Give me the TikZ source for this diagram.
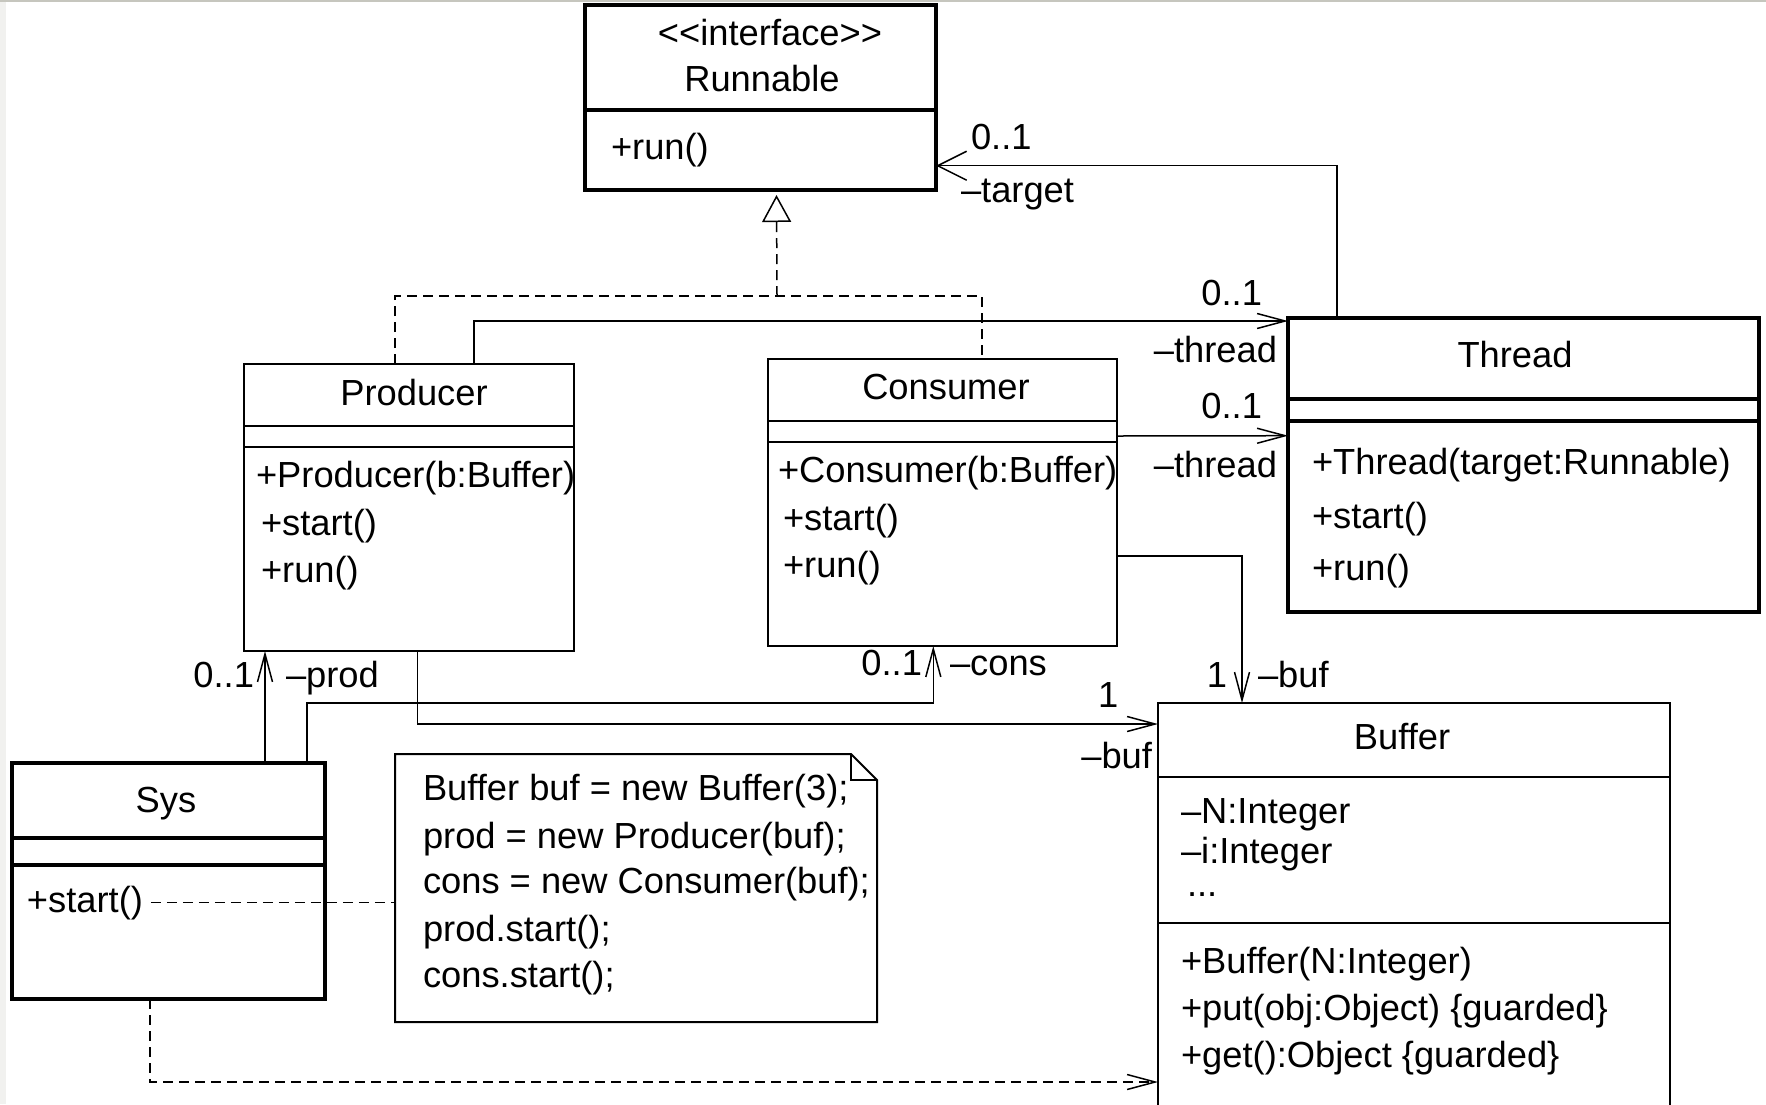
\documentclass[tikz,border=0pt]{standalone}
\usepackage{fontspec}
\setmainfont{Liberation Sans}
\usetikzlibrary{arrows.meta}
\begin{document}
\begin{tikzpicture}[x=1pt,y=-1pt,
  every node/.style={inner sep=0pt,outer sep=0pt},
  umltext/.style={font=\fontsize{36.3pt}{43pt}\selectfont},
  heavybox/.style={draw,line width=3.2pt,anchor=north west},
  lightbox/.style={draw,line width=2pt,anchor=north west},
  plainbox/.style={anchor=north west},
  heavyline/.style={line width=3.2pt},
  lightline/.style={line width=2pt},
  assoc/.style={line width=1.5pt,-{Straight Barb[length=28pt,width=15pt]}},
  wideassoc/.style={line width=1.5pt,-{Straight Barb[length=29pt,width=29pt]}},
  realize/.style={line width=1.5pt,dash pattern=on 10pt off 6pt},
  depend/.style={line width=1.5pt,dash pattern=on 10pt off 6pt,-{Straight Barb[length=28pt,width=15pt]}},
  notelink/.style={line width=1.5pt,dash pattern=on 10pt off 6pt},
]
\definecolor{edgegray}{RGB}{198,198,190}
\definecolor{sidegray}{RGB}{241,241,239}
\useasboundingbox (0,0) rectangle (1766,1104);
\fill[white] (0,0) rectangle (1766,1104);
\fill[edgegray] (0,0) rectangle (1766,2);
\fill[sidegray] (0,2) rectangle (6,1104);

% ---------- class boxes ----------
\node[heavybox,minimum width=351pt,minimum height=185pt] (run) at (585,5) {};
\draw[heavyline] ([yshift=-105pt]run.north west) -- ([yshift=-105pt]run.north east);

\node[heavybox,minimum width=471pt,minimum height=294pt] (thread) at (1288,318) {};
\draw[heavyline] ([yshift=-81pt]thread.north west) -- ([yshift=-81pt]thread.north east);
\draw[heavyline] ([yshift=-103pt]thread.north west) -- ([yshift=-103pt]thread.north east);

\node[lightbox,minimum width=330pt,minimum height=287pt] (prod) at (244,364) {};
\draw[lightline] ([yshift=-62pt]prod.north west) -- ([yshift=-62pt]prod.north east);
\draw[lightline] ([yshift=-83pt]prod.north west) -- ([yshift=-83pt]prod.north east);

\node[lightbox,minimum width=349pt,minimum height=287pt] (cons) at (768,359) {};
\draw[lightline] ([yshift=-62pt]cons.north west) -- ([yshift=-62pt]cons.north east);
\draw[lightline] ([yshift=-83pt]cons.north west) -- ([yshift=-83pt]cons.north east);

\node[heavybox,minimum width=313pt,minimum height=236pt] (sys) at (12,763) {};
\draw[heavyline] ([yshift=-75pt]sys.north west) -- ([yshift=-75pt]sys.north east);
\draw[heavyline] ([yshift=-102pt]sys.north west) -- ([yshift=-102pt]sys.north east);

\node[plainbox,minimum width=512pt,minimum height=410pt] (buf) at (1158,703) {};
\draw[lightline] (buf.south west) -- (buf.north west) -- (buf.north east) -- (buf.south east);
\draw[lightline] ([yshift=-74pt]buf.north west) -- ([yshift=-74pt]buf.north east);
\draw[lightline] ([yshift=-220pt]buf.north west) -- ([yshift=-220pt]buf.north east);

% note with folded corner
\node[plainbox,minimum width=482pt,minimum height=268pt] (note) at (395,754) {};
\draw[lightline,line join=miter] (note.north west) -- ([xshift=-26pt]note.north east)
  -- ([yshift=-26pt]note.north east) -- (note.south east) -- (note.south west) -- cycle;
\draw[line width=1.5pt] ([xshift=-26pt]note.north east) -- ([xshift=-26pt,yshift=-26pt]note.north east)
  -- ([yshift=-26pt]note.north east);

% ---------- texts ----------
\node[umltext,anchor=base] (runst) at (770,45) {<{}<interface>{}>};
\node[umltext,anchor=base] (runnm) at (762,91) {Runnable};
\node[umltext,anchor=base west] (runm1) at (611,159) {+run()};

\node[umltext,anchor=base] (thnm) at (1515,367) {Thread};
\node[umltext,anchor=base west] (thm1) at (1312,474) {+Thread(target:Runnable)};
\node[umltext,anchor=base west] (thm2) at (1312,528) {+start()};
\node[umltext,anchor=base west] (thm3) at (1312,580) {+run()};

\node[umltext,anchor=base] (prnm) at (414,405) {Producer};
\node[umltext,anchor=base west] (prm1) at (256,487) {+Producer(b:Buffer)};
\node[umltext,anchor=base west] (prm2) at (261,535) {+start()};
\node[umltext,anchor=base west] (prm3) at (261,582) {+run()};

\node[umltext,anchor=base] (conm) at (946,399) {Consumer};
\node[umltext,anchor=base west] (com1) at (778,482) {+Consumer(b:Buffer)};
\node[umltext,anchor=base west] (com2) at (783,530) {+start()};
\node[umltext,anchor=base west] (com3) at (783,577) {+run()};

\node[umltext,anchor=base] (synm) at (166,812) {Sys};
\node[umltext,anchor=base west] (sysstart) at (27,912) {+start()};

\node[umltext,anchor=base] (bunm) at (1402,749) {Buffer};
\node[umltext,anchor=base west] (bua1) at (1181,823) {–N:Integer};
\node[umltext,anchor=base west] (bua2) at (1181,863) {–i:Integer};
\node[umltext,anchor=base west] (bua3) at (1187,896) {...};
\node[umltext,anchor=base west] (bum1) at (1181,973) {+Buffer(N:Integer)};
\node[umltext,anchor=base west] (bum2) at (1181,1020) {+put(obj:Object) \{guarded\}};
\node[umltext,anchor=base west] (bum3) at (1181,1067) {+get():Object \{guarded\}};

\node[umltext,anchor=base west] (nt1) at (423,800) {Buffer buf = new Buffer(3);};
\node[umltext,anchor=base west] (nt2) at (423,848) {prod = new Producer(buf);};
\node[umltext,anchor=base west] (nt3) at (423,893) {cons = new Consumer(buf);};
\node[umltext,anchor=base west] (nt4) at (423,941) {prod.start();};
\node[umltext,anchor=base west] (nt5) at (423,987) {cons.start();};

% ---------- connectors ----------
% realization of Runnable by Producer and Consumer
\coordinate (rj) at (777,296);
\draw[realize] ([xshift=151pt]prod.north west) |- (rj) -| ([xshift=214pt]cons.north west);
\draw[realize,-{Triangle[open,length=27pt,width=29pt]}] (rj) -- ([xshift=191.5pt,yshift=-5pt]run.south west);

% Producer -> Thread
\draw[assoc] ([xshift=230pt]prod.north west) |- ([yshift=-3pt]thread.north west);
% Consumer -> Thread
\draw[assoc] ([yshift=-77pt]cons.north east) -- ([yshift=-117.7pt]thread.north west);
% Thread -> Runnable
\draw[wideassoc] ([xshift=49pt]thread.north west) |- ([yshift=-160.7pt]run.north east);
% Consumer -> Buffer
\draw[assoc] ([yshift=-197pt]cons.north east) -| ([xshift=84pt]buf.north west);
% Producer -> Buffer
\draw[assoc] ([xshift=173.5pt]prod.south west) |- ([yshift=-21pt]buf.north west);
% Sys -> Producer
\draw[assoc] ([xshift=253pt]sys.north west) -- ([xshift=21pt]prod.south west);
% Sys -> Consumer
\draw[assoc] ([xshift=295pt]sys.north west) -- ++(0,-60) -| ([xshift=165.3pt]cons.south west);
% Sys uses Buffer
\draw[depend] ([xshift=138pt]sys.south west) |- ([yshift=-379pt]buf.north west);
% note attached to +start()
\draw[notelink] ([xshift=8pt]sysstart.east) -- (sysstart.east -| note.west);

% ---------- role names and multiplicities ----------
\node[umltext,anchor=base west] (l1) at (971,149) {0..1};
\node[umltext,anchor=base west] (l2) at (961,202) {–target};
\node[umltext,anchor=base east] (l3) at (1262,305) {0..1};
\node[umltext,anchor=base east] (l4) at (1277,362) {–thread};
\node[umltext,anchor=base east] (l5) at (1262,418) {0..1};
\node[umltext,anchor=base east] (l6) at (1277,477) {–thread};
\node[umltext,anchor=base east] (l7) at (254,687) {0..1};
\node[umltext,anchor=base west] (l8) at (286,687) {–prod};
\node[umltext,anchor=base east] (l9) at (922,675) {0..1};
\node[umltext,anchor=base west] (l10) at (950,675) {–cons};
\node[umltext,anchor=base east] (l11) at (1227,687) {1};
\node[umltext,anchor=base west] (l12) at (1258,687) {–buf};
\node[umltext,anchor=base west] (l13) at (1098,707) {1};
\node[umltext,anchor=base east] (l14) at (1152,768) {–buf};
\end{tikzpicture}
\end{document}
